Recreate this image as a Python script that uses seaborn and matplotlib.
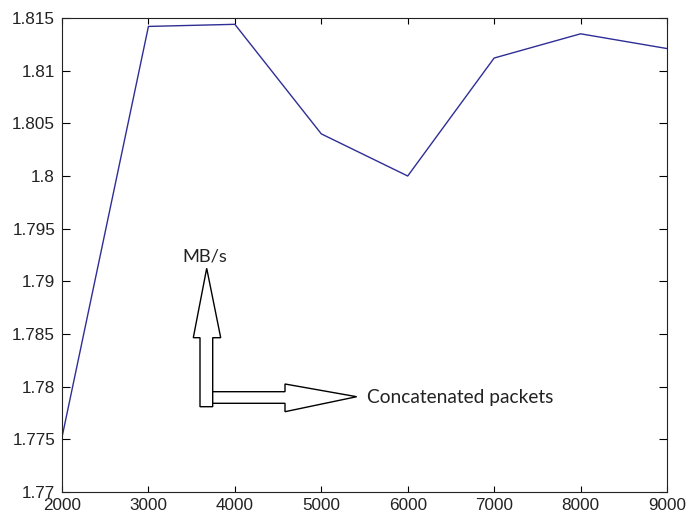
import matplotlib
matplotlib.use("Agg")
import matplotlib.pyplot as plt
from matplotlib.patches import Polygon
import seaborn as sns
import pandas as pd

packets = [2000, 3000, 4000, 5000, 6000, 7000, 8000, 9000]
throughput = [1.7752, 1.8142, 1.8144, 1.8040, 1.8000, 1.8112, 1.8135, 1.8121]
x_ticks = [2000, 3000, 4000, 5000, 6000, 7000, 8000, 9000]
y_ticks = [1.77, 1.775, 1.78, 1.785, 1.79, 1.795, 1.8, 1.805, 1.81, 1.815]
y_tick_labels = ["1.77", "1.775", "1.78", "1.785", "1.79", "1.795", "1.8", "1.805", "1.81", "1.815"]
label_y = "MB/s"
label_x = "Concatenated packets"

sns.set_style("ticks", {"xtick.direction": "in", "ytick.direction": "in"})
plt.rcParams["font.family"] = ["Liberation Sans", "DejaVu Sans"]

W, H = 686, 519
fig = plt.figure(figsize=(W / 100, H / 100), dpi=100)
L, R, T, B = 62, 667, 18, 492
ax = fig.add_axes([L / W, 1 - B / H, (R - L) / W, (B - T) / H])

df = pd.DataFrame({"packets": packets, "throughput": throughput})
sns.lineplot(data=df, x="packets", y="throughput", ax=ax, color="#2e2e96", linewidth=1.0)

ax.set_xlim(2000, 9000)
ax.set_ylim(1.77, 1.815)
ax.set_xticks(x_ticks)
ax.set_xticklabels([str(v) for v in x_ticks])
ax.set_yticks(y_ticks)
ax.set_yticklabels(y_tick_labels)
ax.set_xlabel("")
ax.set_ylabel("")
ax.tick_params(axis="x", which="both", direction="in", top=True, bottom=True,
               length=4.5, width=0.8, labelsize=12.3, pad=4.5, colors="black")
ax.tick_params(axis="y", which="both", direction="in", left=True, right=True,
               length=5.8, width=0.8, labelsize=12.3, pad=5.0, colors="black")
for lab in ax.get_xticklabels() + ax.get_yticklabels():
    lab.set_color("#222222")
for s in ax.spines.values():
    s.set_visible(True)
    s.set_linewidth(0.8)
    s.set_color("#222222")


def ax_pt(px, py):
    return ((px - L) / (R - L), (B - py) / (B - T))


vert = [(200.0, 406.7), (212.7, 406.7), (212.7, 337.7), (220.7, 337.7),
        (206.7, 268.3), (193.3, 337.7), (200.0, 337.7)]
horiz = [(212.7, 391.7), (285.0, 391.7), (285.0, 384.0), (356.7, 396.7),
         (285.0, 411.7), (285.0, 403.3), (212.7, 403.3)]
for shape in (vert, horiz):
    ax.add_patch(Polygon([ax_pt(*p) for p in shape], closed=True, transform=ax.transAxes,
                         facecolor="white", edgecolor="black", linewidth=1.0, zorder=3))

ax.text(*ax_pt(205, 257), label_y, transform=ax.transAxes, ha="center", va="center",
        fontsize=13.2, family=["Lato", "DejaVu Sans"], color="#222222")
ax.text(*ax_pt(367, 398), label_x, transform=ax.transAxes, ha="left", va="center",
        fontsize=13.8, family=["Lato", "DejaVu Sans"], color="#222222")

fig.savefig("out.png", dpi=100, facecolor="white")
